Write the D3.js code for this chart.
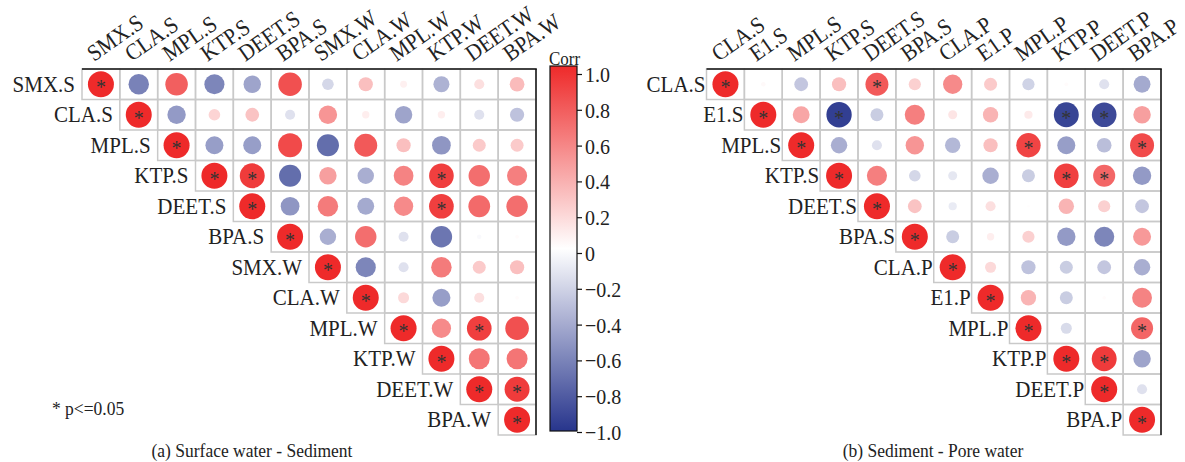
<!DOCTYPE html>
<html>
<head>
<meta charset="utf-8">
<script src="https://cdn.jsdelivr.net/npm/d3@7/dist/d3.min.js"></script>
<style>
  html, body { margin: 0; padding: 0; background: #fff; }
  svg { display: block; }
  text { font-family: "Liberation Serif", "Times New Roman", serif; fill: #222; }
</style>
</head>
<body>
<svg id="chart" width="1185" height="462"></svg>
<script>
// ---------------- data ----------------
const leftVars = ["SMX.S", "CLA.S", "MPL.S", "KTP.S", "DEET.S", "BPA.S",
                  "SMX.W", "CLA.W", "MPL.W", "KTP.W", "DEET.W", "BPA.W"];
// upper triangle, row i lists columns i..11
const leftCorr = [
  [1, -0.62, 0.75, -0.6, -0.45, 0.82, -0.2, 0.3, 0.07, -0.38, 0.15, 0.32],
  [1, -0.5, 0.2, 0.28, -0.15, 0.5, 0.08, -0.45, 0.08, -0.15, -0.3],
  [1, -0.48, -0.48, 0.85, -0.72, 0.78, 0.3, -0.52, 0.25, 0.25],
  [1, 0.92, -0.72, 0.45, -0.4, 0.58, 0.9, 0.68, 0.6],
  [1, -0.52, 0.62, -0.42, 0.55, 0.9, 0.7, 0.68],
  [1, -0.4, 0.68, -0.15, -0.68, -0.03, 0.02],
  [1, -0.6, -0.15, 0.62, 0.25, 0.3],
  [1, 0.18, -0.48, 0.15, 0.02],
  [1, 0.55, 0.9, 0.82],
  [1, 0.65, 0.65],
  [1, 0.92],
  [1]
];
// significant off-diagonal pairs [row, col]
const leftSig = [[3, 4], [3, 9], [4, 9], [8, 10], [10, 11]];

const rightVars = ["CLA.S", "E1.S", "MPL.S", "KTP.S", "DEET.S", "BPA.S",
                   "CLA.P", "E1.P", "MPL.P", "KTP.P", "DEET.P", "BPA.P"];
const rightCorr = [
  [1, 0.03, -0.28, 0.3, 0.78, 0.22, 0.55, 0.25, -0.22, 0.02, -0.15, -0.42],
  [1, 0.42, -0.95, -0.25, 0.6, 0.12, 0.35, 0.1, -0.92, -0.9, 0.45],
  [1, -0.4, -0.15, 0.5, -0.35, 0.3, 0.88, -0.48, -0.32, 0.85],
  [1, 0.6, -0.2, -0.12, -0.4, -0.25, 0.9, 0.72, -0.5],
  [1, 0.28, -0.1, 0.15, 0.01, 0.35, 0.22, -0.28],
  [1, -0.25, 0.08, 0.22, -0.5, -0.6, 0.48],
  [1, 0.18, -0.3, -0.25, -0.28, -0.4],
  [1, 0.35, -0.25, 0.02, 0.58],
  [1, -0.18, 0, 0.72],
  [1, 0.92, -0.45],
  [1, -0.15],
  [1]
];
const rightSig = [[0, 4], [1, 3], [1, 9], [1, 10], [2, 8], [2, 11], [3, 9], [3, 10], [8, 11], [9, 10]];

const colorTicks = [-1.0, -0.8, -0.6, -0.4, -0.2, 0, 0.2, 0.4, 0.6, 0.8, 1.0];
const captions = ["(a) Surface water - Sediment", "(b) Sediment - Pore water"];
const sigNote = "* p<=0.05";
const legendTitle = "Corr";

// ---------------- styles / layout ----------------
const svg = d3.select("#chart");
const color = d3.scaleLinear().domain([-1, 0, 1]).range(["#27358C", "#FFFFFF", "#EE2A2A"]);
const rScale = d3.scaleSqrt().domain([0, 1]).range([0, 13]);
const SY = 1.1; // vertical stretch of glyphs seen in the reference

function stretched(sel, x, y) {
  return sel.attr("transform", (d, i) => `translate(${x(d, i)},${y(d, i)}) scale(1,${SY})`);
}

function drawPanel(vars, corr, sig, x0, x1, labelGap) {
  const y0 = 69, y1 = 435;
  const x = d3.scaleBand().domain(vars).range([x0, x1]);
  const y = d3.scaleBand().domain(vars).range([y0, y1]);
  const sigSet = new Set(sig.map(d => d[0] + "-" + d[1]));
  const cells = [];
  corr.forEach((row, i) => {
    row.forEach((v, k) => {
      const j = i + k;
      cells.push({ i, j, v, sig: i === j || sigSet.has(i + "-" + j) });
    });
  });
  const g = svg.append("g");
  g.selectAll("rect.cell").data(cells).join("rect")
    .attr("class", "cell")
    .attr("x", d => x(vars[d.j]))
    .attr("y", d => y(vars[d.i]))
    .attr("width", x.bandwidth())
    .attr("height", y.bandwidth())
    .attr("fill", "none")
    .attr("stroke", "#c9c9c9")
    .attr("stroke-width", 1.5);
  g.append("line").attr("x1", x0).attr("x2", x1 + 0.75).attr("y1", y0).attr("y2", y0)
    .attr("stroke", "#111").attr("stroke-width", 1.5);
  g.append("line").attr("x1", x1).attr("x2", x1).attr("y1", y0).attr("y2", y1)
    .attr("stroke", "#111").attr("stroke-width", 1.5);
  g.selectAll("circle").data(cells).join("circle")
    .attr("cx", d => x(vars[d.j]) + x.bandwidth() / 2)
    .attr("cy", d => y(vars[d.i]) + y.bandwidth() / 2)
    .attr("r", d => rScale(Math.abs(d.v)))
    .attr("fill", d => color(d.v));
  g.selectAll("text.star").data(cells.filter(d => d.sig)).join("text")
    .attr("class", "star")
    .attr("x", d => x(vars[d.j]) + x.bandwidth() / 2)
    .attr("y", d => y(vars[d.i]) + y.bandwidth() / 2 + 10)
    .attr("text-anchor", "middle")
    .style("font-size", "20px")
    .style("fill", "#333")
    .text("*");
  // row labels
  stretched(g.selectAll("text.rowlab").data(vars).join("text").attr("class", "rowlab"),
      (d, i) => x(vars[i]) - labelGap, d => y(d) + y.bandwidth() / 2 + 7.5)
    .attr("text-anchor", "end")
    .style("font-size", "21px")
    .text(d => d);
  // column labels
  g.selectAll("text.collab").data(vars).join("text")
    .attr("class", "collab")
    .attr("transform", d => `translate(${x(d) + x.bandwidth() / 2 - 7},${y0 - 7}) rotate(-35) scale(1,${SY})`)
    .attr("text-anchor", "start")
    .style("font-size", "21px")
    .text(d => d);
}

drawPanel(leftVars, leftCorr, leftSig, 82, 536, 7);
drawPanel(rightVars, rightCorr, rightSig, 706.5, 1161, 1);

// ---------------- colour bar ----------------
const cy = d3.scaleLinear().domain([-1, 1]).range([432, 74]);
const barX = 550, barW = 27, barTop = 66, barBottom = 431;
const defs = svg.append("defs");
const grad = defs.append("linearGradient").attr("id", "cbar")
  .attr("x1", 0).attr("x2", 0).attr("y1", 1).attr("y2", 0);
d3.range(0, 21).forEach(k => {
  const v = -1 + k * 0.1;
  grad.append("stop").attr("offset", (k / 20)).attr("stop-color", color(v));
});
svg.append("rect").attr("x", barX).attr("y", barTop).attr("width", barW)
  .attr("height", barBottom - barTop).attr("fill", "url(#cbar)")
  .attr("stroke", "#111").attr("stroke-width", 1.2);
const axis = d3.axisRight(cy).tickValues(colorTicks).tickSize(5).tickPadding(3)
  .tickFormat(d => d === 0 ? "0" : d3.format(".1f")(d).replace("-", "\u2212"));
const ag = svg.append("g").attr("transform", `translate(${barX + barW},0)`).call(axis);
ag.select(".domain").remove();
ag.selectAll("line").attr("stroke", "#111").attr("stroke-width", 1.2);
ag.selectAll("text")
  .attr("dy", null).attr("y", 0).attr("x", 0)
  .attr("transform", `translate(8,7.5) scale(1,${SY})`)
  .attr("text-anchor", "start")
  .style("font-size", "20px").style("font-family", "\"Liberation Serif\", serif").attr("fill", "#222");
svg.append("text").attr("transform", `translate(549,65) scale(1,${SY})`).style("font-size", "17px").text(legendTitle);

// ---------------- notes / captions ----------------
svg.append("text").attr("transform", `translate(52,415) scale(1,${SY})`).style("font-size", "17.5px").text(sigNote);
svg.append("text").attr("transform", `translate(252,457) scale(1,${SY})`).attr("text-anchor", "middle").style("font-size", "17.5px").text(captions[0]);
svg.append("text").attr("transform", `translate(933,457) scale(1,${SY})`).attr("text-anchor", "middle").style("font-size", "17.5px").text(captions[1]);
</script>
</body>
</html>
